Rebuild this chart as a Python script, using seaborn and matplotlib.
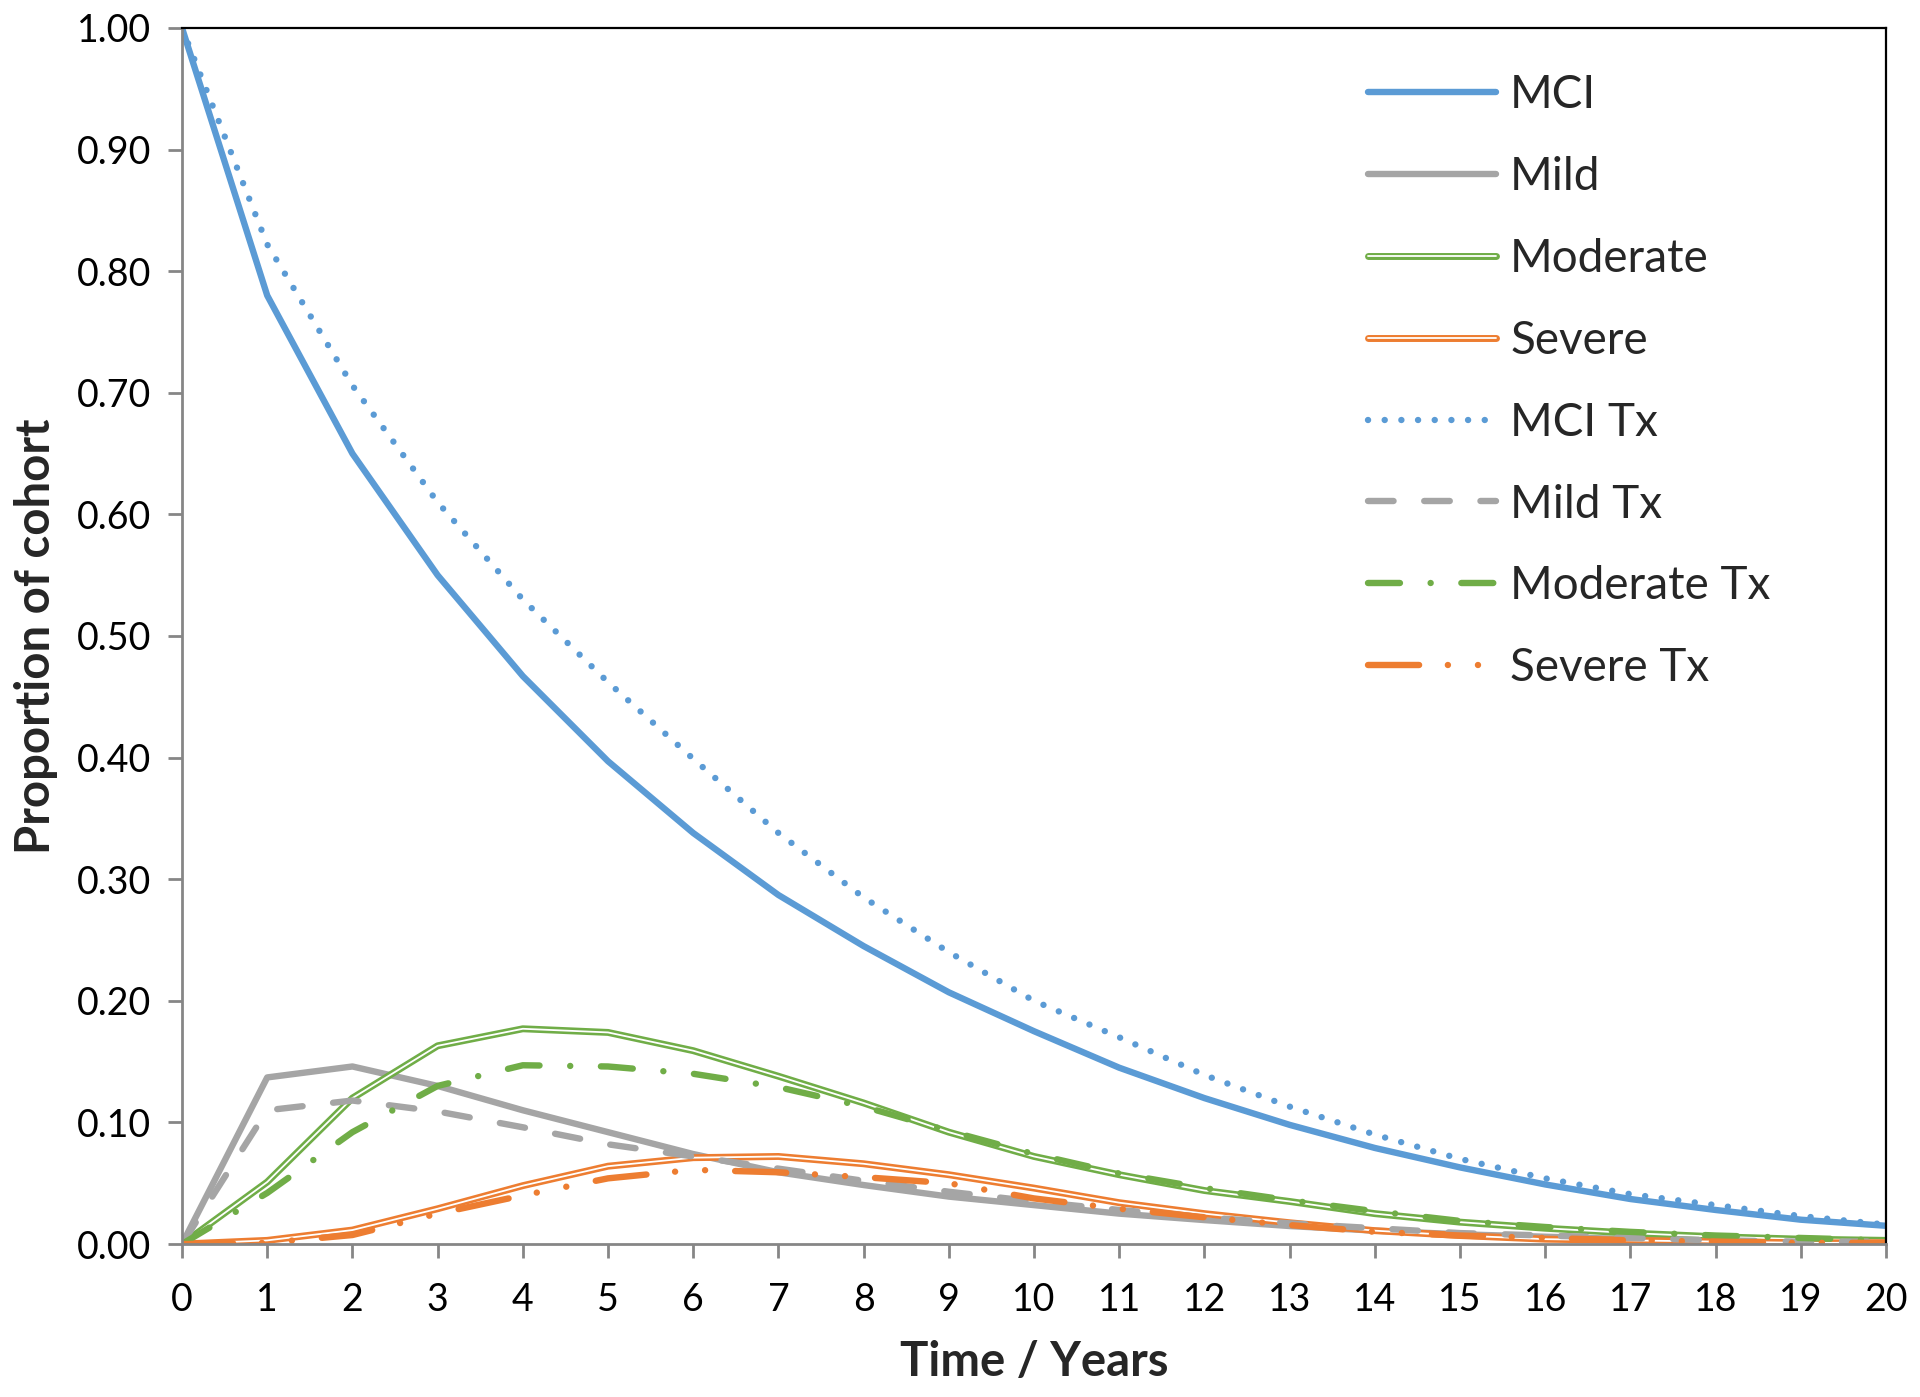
import matplotlib
matplotlib.use("Agg")
import matplotlib.pyplot as plt
import seaborn as sns
import numpy as np
from matplotlib.lines import Line2D
from matplotlib.ticker import FormatStrFormatter, MultipleLocator

years = list(range(0, 21))

mci = [1.00, 0.78, 0.65, 0.55, 0.467, 0.397, 0.338, 0.287, 0.245, 0.207, 0.175,
       0.145, 0.120, 0.098, 0.079, 0.063, 0.049, 0.037, 0.028, 0.020, 0.015]
mild = [0.0, 0.137, 0.146, 0.130, 0.110, 0.092, 0.074, 0.059, 0.0485, 0.039, 0.032,
        0.025, 0.0197, 0.0148, 0.011, 0.008, 0.006, 0.004, 0.003, 0.002, 0.001]
moderate = [0.0, 0.051, 0.120, 0.163, 0.177, 0.174, 0.159, 0.138, 0.116, 0.092, 0.072,
            0.057, 0.044, 0.035, 0.025, 0.018, 0.013, 0.009, 0.006, 0.004, 0.003]
severe = [0.0, 0.003, 0.0115, 0.029, 0.048, 0.064, 0.071, 0.072, 0.066, 0.057, 0.046,
          0.034, 0.025, 0.0175, 0.011, 0.007, 0.004, 0.003, 0.002, 0.001, 0.001]
mci_tx = [1.00, 0.822, 0.706, 0.610, 0.530, 0.462, 0.399, 0.338, 0.285, 0.240, 0.200,
          0.170, 0.139, 0.113, 0.090, 0.070, 0.054, 0.041, 0.032, 0.023, 0.016]
mild_tx = [0.0, 0.110, 0.118, 0.109, 0.096, 0.082, 0.072, 0.062, 0.052, 0.043, 0.035,
           0.028, 0.022, 0.017, 0.013, 0.009, 0.007, 0.005, 0.003, 0.002, 0.002]
moderate_tx = [0.0, 0.042, 0.092, 0.130, 0.147, 0.146, 0.140, 0.129, 0.113, 0.093, 0.074,
               0.058, 0.046, 0.036, 0.027, 0.019, 0.014, 0.010, 0.007, 0.005, 0.003]
severe_tx = [0.0, 0.001, 0.0074, 0.025, 0.040, 0.054, 0.061, 0.059, 0.055, 0.050, 0.0375,
             0.029, 0.022, 0.0156, 0.010, 0.007, 0.005, 0.003, 0.002, 0.001, 0.001]

labels = ["MCI", "Mild", "Moderate", "Severe", "MCI Tx", "Mild Tx", "Moderate Tx", "Severe Tx"]

BLUE = "#5B9BD5"
GRAY = "#A5A5A5"
GREEN = "#70AD47"
ORANGE = "#ED7D31"

sns.set_theme(style="white")
plt.rcParams["font.family"] = ["Lato", "DejaVu Sans"]

fig = plt.figure(figsize=(19.2, 13.97), dpi=100)
ax = fig.add_axes([0.0948, 0.1095, 0.8875, 0.8705])

LW = 4.6
DLW = 5.0
common = dict(ax=ax, legend=False, solid_capstyle="round", dash_capstyle="round")

# solid series
sns.lineplot(x=years, y=mci, color=BLUE, linewidth=LW, **common)
sns.lineplot(x=years, y=mild, color=GRAY, linewidth=LW, **common)
# double lines
sns.lineplot(x=years, y=moderate, color=GREEN, linewidth=DLW, **common)
sns.lineplot(x=years, y=moderate, color="white", linewidth=1.3, **common)
sns.lineplot(x=years, y=severe, color=ORANGE, linewidth=DLW, **common)
sns.lineplot(x=years, y=severe, color="white", linewidth=1.3, **common)

ls_dot = (0, (0.01, 2.6))
ls_dash = (0, (4.0, 4.8))
ls_dashdot = (0, (5.0, 4.8, 0.01, 4.8))
ls_dashdotdot = (0, (8.0, 4.5, 0.01, 4.7, 0.01, 4.7))

sns.lineplot(x=years, y=mci_tx, color=BLUE, linewidth=LW, linestyle=ls_dot, **common)
sns.lineplot(x=years, y=mild_tx, color=GRAY, linewidth=LW, linestyle=ls_dash, **common)
sns.lineplot(x=years, y=moderate_tx, color=GREEN, linewidth=LW, linestyle=ls_dashdot, **common)
sns.lineplot(x=years, y=severe_tx, color=ORANGE, linewidth=LW, linestyle=ls_dashdotdot, **common)

ax.set_xlim(0, 20)
ax.set_ylim(0, 1.0)
ax.xaxis.set_major_locator(MultipleLocator(1))
ax.yaxis.set_major_locator(MultipleLocator(0.1))
ax.yaxis.set_major_formatter(FormatStrFormatter("%.2f"))

for side in ["left", "bottom"]:
    ax.spines[side].set_color("#868686")
    ax.spines[side].set_linewidth(2.0)
for side in ["top", "right"]:
    ax.spines[side].set_color("black")
    ax.spines[side].set_linewidth(1.6)

ax.tick_params(axis="both", which="major", direction="out", length=10, width=2.0,
               color="#868686", labelsize=27, labelcolor="black")
ax.tick_params(axis="x", pad=17, bottom=True)
ax.tick_params(axis="y", pad=12, left=True)

ax.set_xlabel("Time / Years", fontsize=34, fontweight="bold", labelpad=16)
ax.set_ylabel("Proportion of cohort", fontsize=34, fontweight="bold", labelpad=14)

def cap(d):
    d.setdefault("solid_capstyle", "round")
    d.setdefault("dash_capstyle", "round")
    return d

handles = [
    Line2D([], [], **cap(dict(color=BLUE, lw=LW))),
    Line2D([], [], **cap(dict(color=GRAY, lw=LW))),
    (Line2D([], [], **cap(dict(color=GREEN, lw=DLW))), Line2D([], [], color="white", lw=1.3)),
    (Line2D([], [], **cap(dict(color=ORANGE, lw=DLW))), Line2D([], [], color="white", lw=1.3)),
    Line2D([], [], **cap(dict(color=BLUE, lw=LW, ls=ls_dot))),
    Line2D([], [], **cap(dict(color=GRAY, lw=LW, ls=ls_dash))),
    Line2D([], [], **cap(dict(color=GREEN, lw=LW, ls=ls_dashdot))),
    Line2D([], [], **cap(dict(color=ORANGE, lw=LW, ls=ls_dashdotdot))),
]

leg = ax.legend(handles, labels, loc="upper left", bbox_to_anchor=(0.696, 0.962),
                frameon=False, fontsize=33, handlelength=2.8, handletextpad=0.3,
                labelspacing=0.87, borderaxespad=0.0, borderpad=0.0)

fig.savefig("out.png", dpi=100)
